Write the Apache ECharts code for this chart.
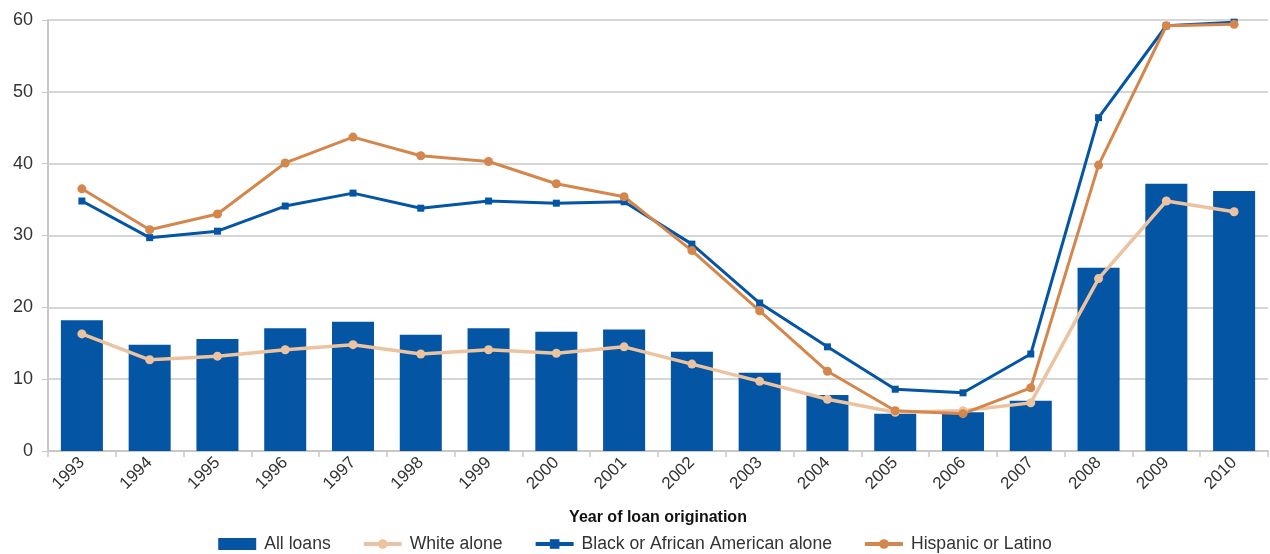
<!DOCTYPE html>
<html><head><meta charset="utf-8">
<script src="https://cdn.jsdelivr.net/npm/echarts@6/dist/echarts.min.js"></script>
<style>html,body{margin:0;padding:0;background:#fff}#c{width:1270px;height:554px}</style>
</head><body><div id="c"></div>
<script>
const years = ['1993','1994','1995','1996','1997','1998','1999','2000','2001','2002','2003','2004','2005','2006','2007','2008','2009','2010'];
const allLoans = [18.2,14.8,15.6,17.1,18.0,16.2,17.1,16.6,16.9,13.8,10.9,7.8,5.2,5.4,7.0,25.5,37.2,36.2];
const whiteAlone = [16.3,12.7,13.2,14.1,14.8,13.5,14.1,13.6,14.5,12.1,9.7,7.2,5.4,5.6,6.7,24.0,34.8,33.3];
const blackAlone = [34.8,29.7,30.6,34.1,35.9,33.8,34.8,34.5,34.7,28.8,20.6,14.5,8.6,8.1,13.5,46.4,59.2,59.7];
const hispanic = [36.5,30.8,33.0,40.1,43.7,41.1,40.3,37.2,35.4,27.9,19.5,11.1,5.6,5.2,8.8,39.8,59.2,59.4];
const yTicks = [0,10,20,30,40,50,60];

const chart = echarts.init(document.getElementById('c'));
const font = 'Liberation Sans, Arial, sans-serif';
chart.setOption({
  animation:false,
  textStyle:{fontFamily:font},
  grid:{left:48,right:2,top:20,bottom:103,containLabel:false},
  legend:{
    bottom:-4,left:'center',itemGap:31,itemWidth:38,itemHeight:12,
    textStyle:{fontSize:17.6,color:'#333',fontFamily:font,padding:[0,0,0,3]},
    data:[
      {name:'All loans',icon:'rect'},
      {name:'White alone',lineStyle:{width:4}},
      {name:'Black or African American alone',lineStyle:{width:4}},
      {name:'Hispanic or Latino',lineStyle:{width:4}}
    ]
  },
  xAxis:{
    type:'category',data:years,
    name:'Year of loan origination',nameLocation:'middle',nameGap:59,
    nameTextStyle:{fontSize:16,fontWeight:'bold',color:'#111',fontFamily:font},
    axisLine:{lineStyle:{color:'#c8c8c8',width:2}},
    axisTick:{show:true,alignWithLabel:false,length:6,lineStyle:{color:'#c8c8c8',width:1.5}},
    axisLabel:{rotate:45,fontSize:17,color:'#333',margin:9,interval:0}
  },
  yAxis:{
    type:'value',min:yTicks[0],max:yTicks[yTicks.length-1],interval:10,
    axisLine:{show:true,lineStyle:{color:'#c8c8c8',width:2}},
    axisTick:{show:true,length:6,lineStyle:{color:'#c8c8c8'}},
    axisLabel:{fontSize:18,color:'#333',margin:15},
    splitLine:{lineStyle:{color:'#c8c8c8',width:1.5}}
  },
  series:[
    {name:'All loans',type:'bar',data:allLoans,barWidth:'62%',itemStyle:{color:'#0455a4'}},
    {name:'White alone',type:'line',data:whiteAlone,symbol:'circle',symbolSize:9,
      lineStyle:{color:'#ecc3a0',width:3.5},itemStyle:{color:'#ecc3a0'}},
    {name:'Black or African American alone',type:'line',data:blackAlone,symbol:'rect',symbolSize:7,
      lineStyle:{color:'#0455a4',width:3},itemStyle:{color:'#0455a4'}},
    {name:'Hispanic or Latino',type:'line',data:hispanic,symbol:'circle',symbolSize:9,
      lineStyle:{color:'#d3874c',width:3},itemStyle:{color:'#d3874c'}}
  ]
});
</script></body></html>
